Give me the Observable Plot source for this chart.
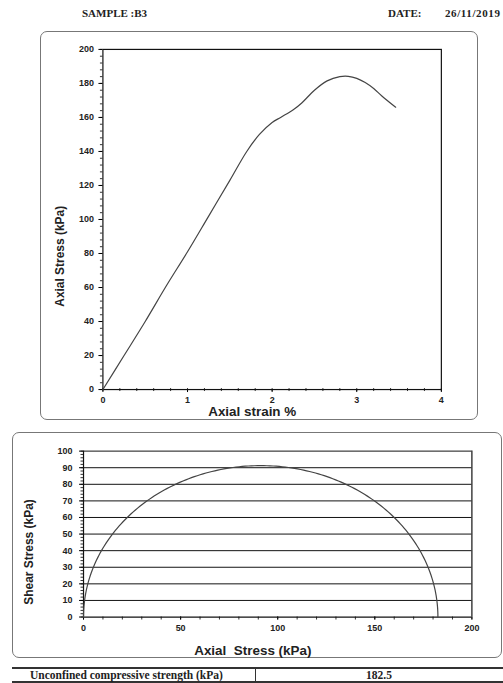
<!DOCTYPE html>
<html>
<head>
<meta charset="utf-8">
<script src="https://cdn.jsdelivr.net/npm/d3@7"></script>
<script src="https://cdn.jsdelivr.net/npm/@observablehq/plot@0.6"></script>
<style>
  html, body { margin: 0; padding: 0; background: #fff; }
  body { width: 503px; height: 683px; position: relative; overflow: hidden; font-family: Arial, "Liberation Sans", sans-serif; }
  .hdr { position: absolute; font-family: "Liberation Serif", "DejaVu Serif", serif; font-weight: bold; font-size: 11px; color: #222; }
  .box { position: absolute; border: 1.3px solid #777; border-radius: 7px; box-sizing: border-box; }
  .box svg { position: absolute; left: -1.3px; top: -1.3px; overflow: visible; }
  #table { position: absolute; left: 12px; top: 667px; width: 491px; height: 16px; border-top: 2px solid #333; border-bottom: 2px solid #333; box-sizing: border-box; font-family: "Liberation Serif", "DejaVu Serif", serif; font-weight: bold; font-size: 11.5px; line-height: 12px; color: #222; }
  #table .l { position: absolute; left: 18px; top: 0px; }
  #table .d { position: absolute; left: 243px; top: -1px; bottom: -1px; border-left: 1px solid #333; }
  #table .r { position: absolute; left: 243px; right: 0; top: 0px; text-align: center; }
</style>
</head>
<body>
<div class="hdr" style="left:82px; top:7px;">SAMPLE :B3</div>
<div class="hdr" style="left:388px; top:7px;">DATE:</div>
<div class="hdr" style="left:445px; top:7px; letter-spacing:0.6px;">26/11/2019</div>
<div class="box" id="topbox" style="left:40px; top:31px; width:438px; height:389px;"></div>
<div class="box" id="botbox" style="left:12px; top:432px; width:490px; height:226px;"></div>
<div id="table"><span class="l">Unconfined compressive strength (kPa)</span><span class="d"></span><span class="r" id="ucsval"></span></div>
<script>
// ---- Data ----
const strain = [0, 0.25, 0.5, 0.75, 1.0, 1.25, 1.5, 1.7, 1.85, 2.0, 2.1, 2.25, 2.35, 2.5, 2.65, 2.8, 2.9, 3.0, 3.1, 3.2, 3.3, 3.46];
const stress = [0, 20, 40, 61, 81, 102, 123, 140, 150, 157, 160, 164.5, 168.5, 176, 181.5, 184, 184.2, 183, 180.5, 177, 172.5, 166];
const strainTicks = [0, 1, 2, 3, 4];
const stressTicks = [0, 20, 40, 60, 80, 100, 120, 140, 160, 180, 200];
const sigmaTicks = [0, 50, 100, 150, 200];
const tauTicks = [0, 10, 20, 30, 40, 50, 60, 70, 80, 90, 100];
const ucs = 182.5;

document.getElementById("ucsval").textContent = String(ucs);

const tickFont = {fontSize: 9, fontWeight: "bold", fill: "#222"};

// ---- Top: stress-strain ----
const curveData = strain.map((s, i) => ({strain: s, stress: stress[i]}));
const topChart = Plot.plot({
  width: 438, height: 389,
  marginLeft: 62.7, marginRight: 35.3, marginTop: 18, marginBottom: 29.3,
  style: {fontFamily: "Arial, 'Liberation Sans', sans-serif", background: "transparent"},
  x: {domain: [0, 4]},
  y: {domain: [0, 200]},
  marks: [
    Plot.axisX({ticks: d3.range(0, 4.001, 0.2), tickSize: 2, text: null, label: null, stroke: "#333"}),
    Plot.axisX({ticks: d3.range(0, 4.001, 0.2), anchor: "top", frameAnchor: "bottom", tickSize: 2, text: null, label: null, stroke: "#333"}),
    Plot.axisX({ticks: strainTicks, tickFormat: d => String(d), tickSize: 3, tickPadding: 4, label: null, ...tickFont}),
    Plot.axisY({ticks: d3.range(0, 200.001, 4), tickSize: 2.5, text: null, label: null, stroke: "#333"}),
    Plot.axisY({ticks: stressTicks, tickFormat: d => String(d), tickSize: 4, tickPadding: 5, label: null, ...tickFont}),
    Plot.frame({stroke: "#111", strokeWidth: 1.2}),
    Plot.line(curveData, {x: "strain", y: "stress", curve: "catmull-rom", stroke: "#444", strokeWidth: 1.2}),
    Plot.text(["Axial strain %"], {frameAnchor: "bottom", lineAnchor: "middle", textAnchor: "middle", dy: 22, dx: -20, fontSize: 13.5, fontWeight: "bold", fill: "#222"}),
    Plot.text(["Axial Stress (kPa)"], {frameAnchor: "left", textAnchor: "middle", lineAnchor: "middle", rotate: -90, dx: -43, dy: 37, fontSize: 12, fontWeight: "bold", fill: "#222"})
  ]
});
document.getElementById("topbox").appendChild(topChart);

// ---- Bottom: Mohr circle (semicircle on the UCS) ----
const centre = ucs / 2;
const mohr = d3.range(0, 181, 1).map(a => ({sigma: centre - centre * Math.cos(a * Math.PI / 180), tau: centre * Math.sin(a * Math.PI / 180)}));
const botChart = Plot.plot({
  width: 490, height: 226,
  marginLeft: 71.3, marginRight: 28.7, marginTop: 18.7, marginBottom: 40.7,
  style: {fontFamily: "Arial, 'Liberation Sans', sans-serif", background: "transparent"},
  x: {domain: [0, 200]},
  y: {domain: [0, 100]},
  marks: [
    Plot.gridY({ticks: tauTicks.filter(t => t > 0), stroke: "#111", strokeOpacity: 1, strokeWidth: 1}),
    Plot.ruleX([200], {stroke: "#111", strokeWidth: 1.2}),
    Plot.axisX({ticks: d3.range(0, 200.001, 10), tickSize: 3, text: null, label: null, stroke: "#333"}),
    Plot.axisX({ticks: sigmaTicks, tickFormat: d => String(d), tickSize: 3, tickPadding: 5, label: null, ...tickFont}),
    Plot.axisY({ticks: d3.range(0, 100.001, 2), tickSize: 2.5, text: null, label: null, stroke: "#333"}),
    Plot.axisY({ticks: tauTicks, tickFormat: d => String(d), tickSize: 4, tickPadding: 7, label: null, ...tickFont}),
    Plot.ruleY([0], {stroke: "#111", strokeWidth: 1.2}),
    Plot.ruleX([0], {stroke: "#111", strokeWidth: 1.2}),
    Plot.line(mohr, {x: "sigma", y: "tau", stroke: "#444", strokeWidth: 1.2}),
    Plot.text(["Axial  Stress (kPa)"], {frameAnchor: "bottom", lineAnchor: "middle", textAnchor: "middle", dy: 34, dx: -25, fontSize: 13.5, fontWeight: "bold", fill: "#222", style: "white-space:pre"}),
    Plot.text(["Shear Stress (kPa)"], {frameAnchor: "left", textAnchor: "middle", lineAnchor: "middle", rotate: -90, dx: -55, dy: 18, fontSize: 12, fontWeight: "bold", fill: "#222"})
  ]
});
document.getElementById("botbox").appendChild(botChart);
</script>
</body>
</html>
